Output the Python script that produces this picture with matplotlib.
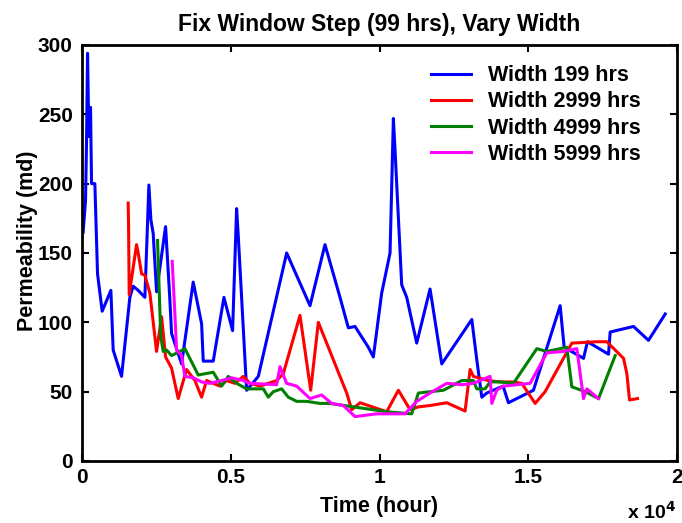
import matplotlib
matplotlib.use("Agg")
import matplotlib.pyplot as plt
from matplotlib.ticker import FuncFormatter

plt.rcParams["font.family"] = ["Liberation Sans", "DejaVu Sans"]
plt.rcParams["font.weight"] = "bold"

# -------------------------------
# DATA (time in hours, permeability in md)
# -------------------------------
t_199 = [44, 124, 158, 192, 235, 292, 326, 437, 527, 683, 975, 1053, 1334, 1613,
         1725, 1893, 2118, 2252, 2319, 2397, 2510, 2813, 2958, 3014, 3351, 3741,
         4023, 4078, 4414, 4773, 5064, 5199, 5255, 5536, 5928, 6880, 7664, 8168,
         8672, 8952, 9176, 9624, 9792, 10072, 10353, 10409, 10465, 10521, 10745,
         10913, 11249, 11697, 12090, 13099, 13267, 13435, 13603, 14151, 14330,
         15170, 16067, 16202, 16852, 16986, 17692, 17748, 18532, 19036, 19597]
k_199 = [165, 188, 231, 294, 234, 255, 200, 200, 135, 108, 123, 80, 61, 118,
         126, 123, 118, 199, 174, 164, 122, 169, 116, 92, 70, 129,
         99, 72, 72, 118, 94, 182, 162, 51, 61, 150, 112, 156,
         118, 96, 97, 82, 75, 121, 150, 198, 247, 224, 127,
         118, 85, 124, 70, 102, 73, 46, 49, 54, 42,
         51, 112, 82, 74, 86, 77, 93, 97, 87, 106]

t_2999 = [1557, 1570, 1591, 1838, 1893, 2006, 2118, 2286, 2510, 2679, 2813, 3014,
          3237, 3518, 3798, 4023, 4190, 4638, 4863, 5143, 5423, 5647, 5983, 6544,
          6768, 7328, 7687, 7944, 8672, 8897, 9065, 9345, 10241, 10633, 11025,
          11305, 11697, 12258, 12874, 13042, 13154, 13658, 14050, 14498, 14779,
          15227, 15563, 16460, 17300, 17636, 17916, 18196, 18308, 18397, 18666]
k_2999 = [186, 169, 120, 156, 150, 135, 134, 121, 79, 104, 75, 67,
          45, 66, 58, 46, 58, 54, 58, 56, 61, 56, 54, 58,
          63, 105, 51, 100, 61, 49, 37, 42, 35.5, 51, 37,
          39, 40, 42, 36, 66, 61, 58, 57, 57, 56,
          41.5, 50, 85, 86, 86, 80, 74, 63, 44, 45]

t_4999 = [2543, 2650, 2733, 2846, 3014, 3294, 3462, 3910, 4414, 4695, 4919, 5199,
          5536, 6096, 6264, 6432, 6712, 6936, 7216, 7552, 8000, 8336, 10241, 11081,
          11305, 12145, 12762, 13154, 13267, 13546, 13714, 14050, 14498, 15283,
          15619, 16291, 16460, 16908, 17356, 17916]
k_4999 = [159, 90, 79, 80, 76, 79, 81, 62, 64, 54, 61, 56,
          52, 52, 46, 50, 52, 46, 43, 43, 41.5, 41.5, 35.5, 34,
          49, 51, 58, 58, 52, 52, 57, 57, 56, 81,
          79, 82, 53.5, 50, 45, 76]

t_5999 = [3035, 3126, 3182, 3351, 3462, 3741, 4023, 4302, 4695, 5031, 5423, 5647,
          6544, 6656, 6880, 7216, 7664, 8056, 8392, 8784, 9176, 9905, 10857, 11249,
          11697, 12258, 12762, 13154, 13714, 13771, 13939, 14162, 15059, 15619,
          16179, 16628, 16852, 16964, 17356]
k_5999 = [144, 106, 80, 76, 61, 60, 57, 56, 58, 60, 58, 56,
          55, 68, 56, 54, 45, 47.6, 41.5, 40, 32, 34, 34, 43,
          49, 56, 55, 56, 61, 41.5, 51, 54, 56, 78,
          79, 81, 45, 52, 45]

series = [
    (t_199, k_199, "Width 199 hrs", "#0000ff"),
    (t_2999, k_2999, "Width 2999 hrs", "#ff0000"),
    (t_4999, k_4999, "Width 4999 hrs", "#008000"),
    (t_5999, k_5999, "Width 5999 hrs", "#ff00ff"),
]

# -------------------------------
# PLOT
# -------------------------------
fig = plt.figure(figsize=(6.82, 5.23), dpi=100)
ax = fig.add_axes([0.120, 0.1186, 0.873, 0.7954])

for t, k, label, color in series:
    ax.plot(t, k, color=color, linewidth=2.2, label=label)

ax.set_xlim(0, 20000)
ax.set_ylim(0, 300)
ax.set_xticks([0, 5000, 10000, 15000, 20000])
ax.set_yticks([0, 50, 100, 150, 200, 250, 300])
ax.xaxis.set_major_formatter(FuncFormatter(lambda v, p: "%g" % (v / 10000)))
ax.tick_params(direction="in", length=5, width=1.5, labelsize=15,
               top=True, right=True)
ax.tick_params(axis="x", pad=5)
ax.tick_params(axis="y", pad=6.5)
for s in ax.spines.values():
    s.set_linewidth(2)

ax.set_title("Fix Window Step (99 hrs), Vary Width", fontsize=16.5,
             fontweight="bold", pad=10)
ax.set_xlabel("Time (hour)", fontsize=15.5, fontweight="bold")
ax.set_ylabel("Permeability (md)", fontsize=15.5, fontweight="bold")
ax.xaxis.set_label_coords(0.5, -0.084)
ax.yaxis.set_label_coords(-0.074, 0.53)
fig.text(0.919, 0.008, r"x 10$^{\mathbf{4}}$", fontsize=14, fontweight="bold",
         va="baseline")

ax.legend(loc="upper right", frameon=False, fontsize=15.5, handlelength=1.86,
          handletextpad=0.8, labelspacing=0.24, borderpad=0.4,
          bbox_to_anchor=(0.971, 0.998))

plt.savefig("out.png", dpi=100)
